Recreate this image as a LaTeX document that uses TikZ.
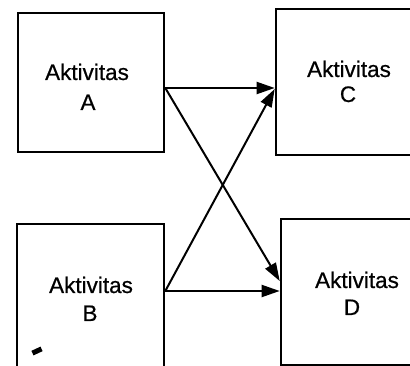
\documentclass[tikz,border=0pt]{standalone}
\usepackage{fontspec}
\setmainfont{Liberation Sans}[FakeBold=0.6]
\usetikzlibrary{arrows.meta}
\begin{document}
\begin{tikzpicture}[x=1pt,y=-1pt,
  box/.style={draw=black,line width=2.6pt,fill=white,minimum width=#1,inner sep=0pt},
  lbl/.style={anchor=base,font=\fontsize{22.5}{26}\selectfont,inner sep=0pt},
  arr/.style={line width=2pt,-{Triangle[length=18pt,width=12pt]}}]
\useasboundingbox (0,0) rectangle (410,366);
\clip (0,0) rectangle (410,366);
\fill[white] (0,0) rectangle (410,366);
% boxes
\node[box=146pt,minimum height=139pt] (A) at (91,82.5) {};
\node[box=144pt,minimum height=146pt] (C) at (348,82) {};
\node[box=147pt,minimum height=156pt] (B) at (90.5,302) {};
\node[box=139pt,minimum height=146pt] (D) at (350.5,292) {};
% labels
\node[lbl] (tA1) at (87,80) {Aktivitas};
\node[lbl] (tA2) at (88,110) {A};
\node[lbl] (tC1) at (349,77) {Aktivitas};
\node[lbl] (tC2) at (348,102) {C};
\node[lbl] (tB1) at (91,293) {Aktivitas};
\node[lbl] (tB2) at (90,321) {B};
\node[lbl] (tD1) at (357,288) {Aktivitas};
\node[lbl] (tD2) at (352,315) {D};
% connector end points
\coordinate (ya) at (0,88);
\coordinate (yb) at (0,291);
\coordinate (yc) at (0,89);
\coordinate (yd) at (0,281);
\draw[arr] (A.east |- ya) -- (C.west |- ya);
\draw[arr] (A.east |- ya) -- (D.west |- yd);
\draw[arr] (B.east |- yb) -- (C.west |- yc);
\draw[arr] (B.east |- yb) -- (D.west |- yb);
% stray mark
\fill[black,rotate around={25:(37,351)}] (32,348.5) rectangle (42,353.5);
\end{tikzpicture}
\end{document}
